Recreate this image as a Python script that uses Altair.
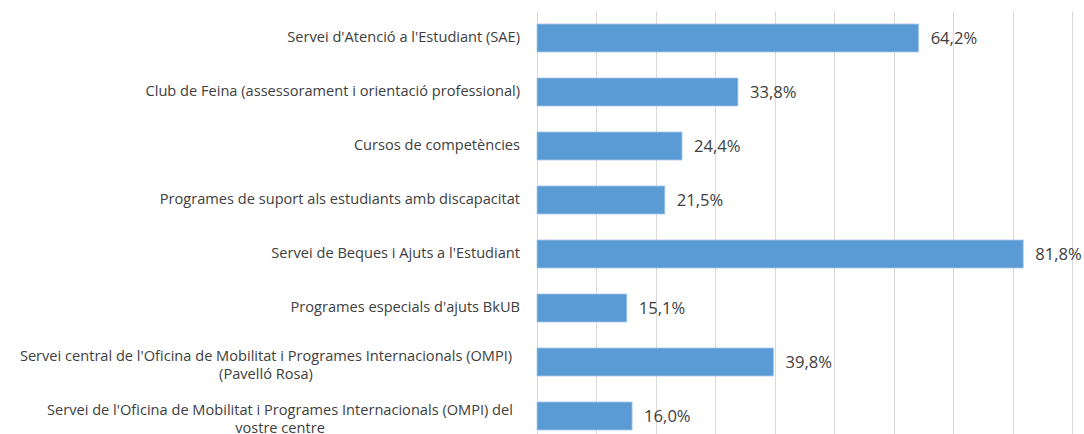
import altair as alt
import pandas as pd

categories = [
    "Servei d'Atenció a l'Estudiant (SAE)",
    "Club de Feina (assessorament i orientació professional)",
    "Cursos de competències",
    "Programes de suport als estudiants amb discapacitat",
    "Servei de Beques i Ajuts a l'Estudiant",
    "Programes especials d'ajuts BkUB",
    "Servei central de l'Oficina de Mobilitat i Programes Internacionals (OMPI)|(Pavelló Rosa)",
    "Servei de l'Oficina de Mobilitat i Programes Internacionals (OMPI) del|vostre centre",
]
values = [64.2, 33.8, 24.4, 21.5, 81.8, 15.1, 39.8, 16.0]
grid_ticks = [0, 10, 20, 30, 40, 50, 60, 70, 80, 90]

df = pd.DataFrame({
    "cat": categories,
    "val": values,
    "txt": [f"{v:.1f}".replace(".", ",") + "%" for v in values],
    "wrapped": ["|" in c for c in categories],
    "idx": list(range(len(categories))),
})

TEXT = "#404040"
FONT = "Open Sans"
LABEL_SIZE = 14.6

y_enc = alt.Y("cat:N", sort=categories,
              scale=alt.Scale(paddingInner=0.48, paddingOuter=0.24),
              axis=None)
x_scale = alt.Scale(domain=[0, 90], nice=False)

base = alt.Chart(df)

bars = base.mark_bar(color="#5B9BD5", stroke="#A9C9EB", strokeWidth=0.8).encode(
    x=alt.X("val:Q", scale=x_scale,
            axis=alt.Axis(values=grid_ticks, labels=False, ticks=False, domain=False,
                          title=None, grid=True, gridColor="#D9D9D9", gridWidth=1)),
    y=y_enc,
)

vals = base.mark_text(align="left", baseline="middle", dx=12, dy=1,
                      font=FONT, fontSize=16.6, color=TEXT).encode(
    x=alt.X("val:Q", scale=x_scale),
    y=y_enc,
    text="txt:N",
)

single = base.transform_filter("!datum.wrapped").mark_text(
    align="right", baseline="middle", font=FONT, fontSize=LABEL_SIZE, color=TEXT
).encode(
    x=alt.value(-17),
    y=y_enc,
    text="cat:N",
)

wrap1 = base.transform_filter("datum.idx == 6").mark_text(
    align="center", baseline="middle", font=FONT, fontSize=LABEL_SIZE, color=TEXT,
    lineBreak="|", lineHeight=18, dy=-5
).encode(
    x=alt.value(-271),
    y=y_enc,
    text="cat:N",
)

wrap2 = base.transform_filter("datum.idx == 7").mark_text(
    align="center", baseline="middle", font=FONT, fontSize=LABEL_SIZE, color=TEXT,
    lineBreak="|", lineHeight=18, dy=-5
).encode(
    x=alt.value(-257),
    y=y_enc,
    text="cat:N",
)

chart = alt.layer(bars, vals, single, wrap1, wrap2).properties(
    width=535, height=432,
    autosize=alt.AutoSizeParams(type="none"),
    padding={"left": 537, "top": 11, "right": 12, "bottom": 0},
    background="white",
).configure_view(stroke=None)

chart.save("out.html", embed_options={"renderer": "svg", "actions": False})
